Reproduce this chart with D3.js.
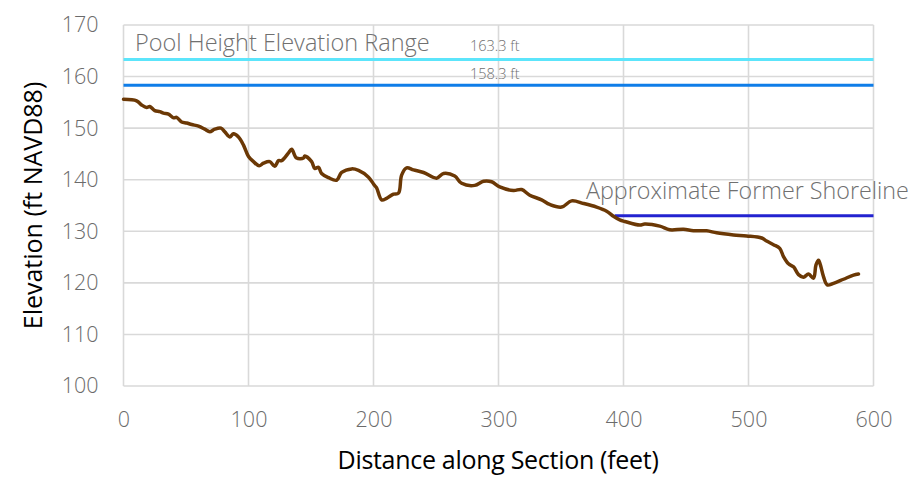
<!DOCTYPE html>
<html>
<head>
<meta charset="utf-8">
<script src="https://cdn.jsdelivr.net/npm/d3@7/dist/d3.min.js"></script>
<style>
  html, body { margin: 0; padding: 0; background: #fff; }
  svg { display: block; }
  text { font-family: "Open Sans", "Noto Sans", sans-serif; }
</style>
</head>
<body>
<svg id="chart" width="915" height="487"></svg>
<script>
// Ground profile along the section: distance (ft) and elevation (ft NAVD88)
const distance = [0, 10.5, 14.5, 18.5, 21, 25, 29, 32, 36, 40, 42.5, 46.5, 50.5, 54.5, 60, 65, 69, 73, 78, 81, 85, 88, 92, 96, 100, 104, 108.5, 112, 117, 121, 124, 126.5, 132, 134.5, 138.5, 144, 145, 150.5, 153, 156, 158.5, 164, 170.5, 174.5, 182.5, 188, 196, 200.5, 202.5, 206.5, 210.5, 216, 220, 222.5, 226.5, 232, 240, 250.5, 256, 265, 270.5, 281, 288, 294.5, 301, 312, 318.5, 325, 334.5, 341, 350.5, 358.5, 368, 378.5, 386.5, 392, 397, 401, 413, 417, 429, 437, 448, 456, 466.5, 474.5, 488, 498.5, 510.5, 514.5, 520, 525, 528, 532, 536, 540, 544, 548, 552, 554, 556, 557.5, 560, 563, 568, 576, 584, 588];
const elevation = [155.6, 155.3, 154.5, 154.0, 154.2, 153.4, 153.2, 152.9, 152.7, 152.0, 152.1, 151.2, 151.0, 150.7, 150.4, 149.8, 149.3, 149.8, 150.0, 149.3, 148.3, 148.9, 148.3, 146.7, 144.5, 143.5, 142.7, 143.2, 143.5, 142.6, 143.7, 143.7, 145.2, 145.9, 144.2, 144.2, 144.6, 143.5, 142.2, 142.4, 141.2, 140.4, 139.9, 141.4, 142.1, 141.8, 140.5, 139.0, 138.4, 136.1, 136.4, 137.2, 137.4, 140.9, 142.3, 141.9, 141.4, 140.3, 141.2, 140.7, 139.3, 138.9, 139.7, 139.6, 138.6, 137.9, 138.1, 137.0, 136.1, 135.2, 134.7, 135.9, 135.4, 134.7, 133.9, 132.9, 132.2, 131.9, 131.2, 131.4, 131.0, 130.3, 130.4, 130.1, 130.1, 129.7, 129.3, 129.1, 128.7, 128.1, 127.4, 126.7, 125.1, 123.7, 123.1, 121.6, 121.1, 121.7, 120.9, 123.5, 124.4, 123.5, 121.2, 119.6, 119.9, 120.7, 121.5, 121.7];

// Reference elevations
const poolLevels = [163.3, 158.3];
const poolColors = ["#5ce5fb", "#0f7de8"];
const poolLabels = ["163.3 ft", "158.3 ft"];
const shoreline = { from: 393, to: 600, elev: 133 };

// Axis ticks
const xTicks = [0, 100, 200, 300, 400, 500, 600];
const yTicks = [100, 110, 120, 130, 140, 150, 160, 170];

const svg = d3.select("#chart");
const margin = { left: 123.5, right: 41.5, top: 25, bottom: 101 };
const W = 915, H = 487;

const x = d3.scaleLinear().domain([0, 600]).range([margin.left, W - margin.right]);
const y = d3.scaleLinear().domain([100, 170]).range([H - margin.bottom, margin.top]);

const grid = "#d9d9d9";

// Gridlines
svg.append("g").selectAll("line").data(yTicks).join("line")
  .attr("x1", x(0)).attr("x2", x(600))
  .attr("y1", d => y(d)).attr("y2", d => y(d))
  .attr("stroke", grid).attr("stroke-width", 1.6);
svg.append("g").selectAll("line").data(xTicks).join("line")
  .attr("x1", d => x(d)).attr("x2", d => x(d))
  .attr("y1", y(100)).attr("y2", y(170))
  .attr("stroke", grid).attr("stroke-width", 1.6);

// Axes (labels only; lines come from the grid)
const xAxis = svg.append("g")
  .attr("transform", `translate(0,${y(100)})`)
  .call(d3.axisBottom(x).tickValues(xTicks).tickSize(0).tickPadding(26).tickFormat(d3.format("d")));
const yAxis = svg.append("g")
  .attr("transform", `translate(${x(0)},0)`)
  .call(d3.axisLeft(y).tickValues(yTicks).tickSize(0).tickPadding(25).tickFormat(d3.format("d")));
[xAxis, yAxis].forEach(a => {
  a.select(".domain").remove();
  a.selectAll("text")
    .attr("fill", "#6b6b6b")
    .style("font-size", "21.5px")
    .style("font-weight", 300)
    .style("font-family", "'Open Sans', sans-serif");
});
xAxis.selectAll("text").attr("dy", "0.71em");

// Pool height lines
svg.append("g").selectAll("line").data(poolLevels).join("line")
  .attr("x1", x(0)).attr("x2", x(600))
  .attr("y1", d => y(d)).attr("y2", d => y(d))
  .attr("stroke", (d, i) => poolColors[i]).attr("stroke-width", 3);

// Shoreline
svg.append("line")
  .attr("x1", x(shoreline.from)).attr("x2", x(shoreline.to))
  .attr("y1", y(shoreline.elev)).attr("y2", y(shoreline.elev))
  .attr("stroke", "#2323d0").attr("stroke-width", 3);

// Ground profile
const pts = distance.map((d, i) => [d, elevation[i]]);
svg.append("path")
  .datum(pts)
  .attr("fill", "none")
  .attr("stroke", "#6b3805")
  .attr("stroke-width", 3.5)
  .attr("stroke-linejoin", "round")
  .attr("stroke-linecap", "round")
  .attr("d", d3.line().x(d => x(d[0])).y(d => y(d[1])).curve(d3.curveCatmullRom.alpha(0.5)));

// Annotations
svg.append("text")
  .attr("x", 135).attr("y", 50.5)
  .attr("fill", "#707070").style("font-size", "23.5px").style("font-weight", 300)
  .text("Pool Height Elevation Range");
svg.append("g").selectAll("text").data(poolLevels).join("text")
  .attr("x", 470).attr("y", (d, i) => i === 0 ? 50.5 : 79)
  .attr("fill", "#707070").style("font-size", "14.5px").style("font-weight", 300)
  .text((d, i) => poolLabels[i]);
svg.append("text")
  .attr("x", 586).attr("y", 199)
  .attr("fill", "#707070").style("font-size", "23.3px").style("font-weight", 300)
  .text("Approximate Former Shoreline");

// Axis titles
svg.append("text")
  .attr("x", 498).attr("y", 469)
  .attr("text-anchor", "middle")
  .attr("fill", "#000").style("font-size", "25px")
  .style("letter-spacing", "-0.3px")
  .text("Distance along Section (feet)");
svg.append("text")
  .attr("transform", `translate(42,${(y(100) + y(170)) / 2}) rotate(-90)`)
  .attr("text-anchor", "middle")
  .attr("fill", "#000").style("font-size", "25px")
  .text("Elevation (ft NAVD88)");
</script>
</body>
</html>
